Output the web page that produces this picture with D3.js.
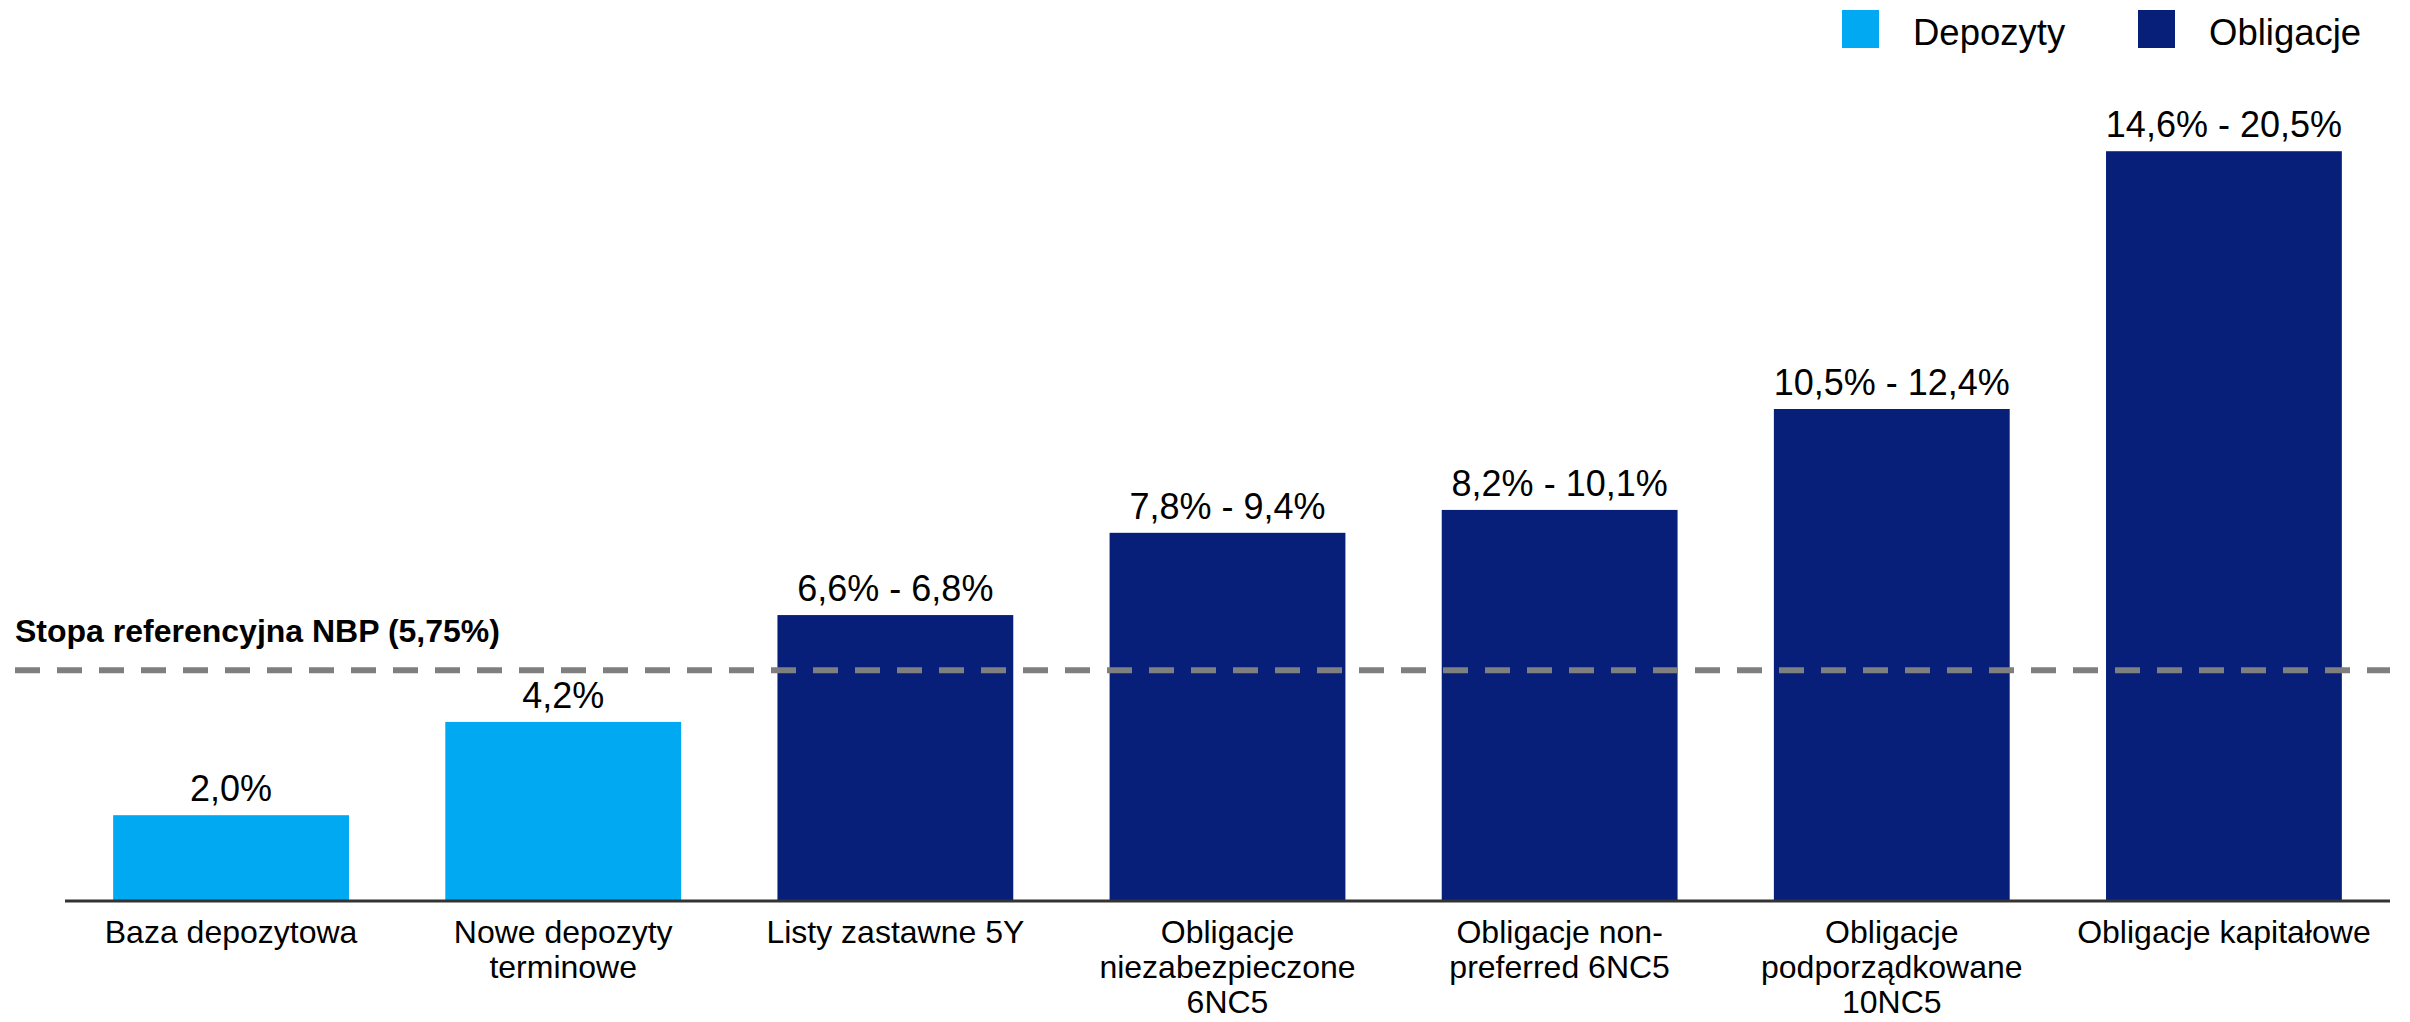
<!DOCTYPE html>
<meta charset="utf-8">
<script src="https://d3js.org/d3.v7.min.js"></script>
<style>
  body { margin: 0; background: #fff; }
  text { font-family: "Liberation Sans", Arial, sans-serif; fill: #000; }
</style>
<div id="chart"></div>
<script>

var width = 2410, height = 1022;

// dados
var categories = ["Baza depozytowa", "Nowe depozyty terminowe", "Listy zastawne 5Y",
  "Obligacje niezabezpieczone 6NC5", "Obligacje non-preferred 6NC5",
  "Obligacje podporządkowane 10NC5", "Obligacje kapitałowe"];
var catLines = [
  ["Baza depozytowa"],
  ["Nowe depozyty", "terminowe"],
  ["Listy zastawne 5Y"],
  ["Obligacje", "niezabezpieczone", "6NC5"],
  ["Obligacje non-", "preferred 6NC5"],
  ["Obligacje", "podporządkowane", "10NC5"],
  ["Obligacje kapitałowe"]
];
var barValues = [2.0, 4.2, 6.72, 8.66, 9.2, 11.58, 17.66];
var valueLabels = ["2,0%", "4,2%", "6,6% - 6,8%", "7,8% - 9,4%", "8,2% - 10,1%", "10,5% - 12,4%", "14,6% - 20,5%"];
var groups = ["Depozyty", "Depozyty", "Obligacje", "Obligacje", "Obligacje", "Obligacje", "Obligacje"];
var seriesNames = ["Depozyty", "Obligacje"];
var refLevel = 5.42;
var refLabel = "Stopa referencyjna NBP (5,75%)";

var kolor = d3.scaleOrdinal().domain(seriesNames).range(["#00a9f1", "#071f79"]);

var svg = d3.select("#chart")
  .append("svg")
  .attr("width", width)
  .attr("height", height);

var x = d3.scaleBand()
  .domain(categories)
  .range([65, 2390])
  .paddingInner(0.29)
  .paddingOuter(0.145);

var y = d3.scaleLinear()
  .domain([0, 20])
  .range([900, 900 - 20 * 42.4]);

var data = categories.map(function(c, i) {
  return {cat: c, v: barValues[i], lab: valueLabels[i], g: groups[i], lines: catLines[i]};
});

// słupki
svg.selectAll("rect.bar")
  .data(data)
  .join("rect")
  .attr("class", "bar")
  .attr("x", function(d) { return x(d.cat); })
  .attr("width", x.bandwidth())
  .attr("y", function(d) { return y(d.v); })
  .attr("height", function(d) { return y(0) - y(d.v); })
  .attr("fill", function(d) { return kolor(d.g); });

// etykiety wartości
svg.selectAll("text.val")
  .data(data)
  .join("text")
  .attr("class", "val")
  .attr("x", function(d) { return x(d.cat) + x.bandwidth() / 2; })
  .attr("y", function(d) { return y(d.v) - 14; })
  .attr("text-anchor", "middle")
  .style("font-size", "36px")
  .text(function(d) { return d.lab; });

// linia stopy referencyjnej
svg.append("line")
  .attr("x1", 15)
  .attr("x2", 2390)
  .attr("y1", y(refLevel))
  .attr("y2", y(refLevel))
  .attr("stroke", "#7f7f7f")
  .attr("stroke-width", 6)
  .attr("stroke-dasharray", "25,17");

svg.append("text")
  .attr("x", 15)
  .attr("y", 642)
  .style("font-size", "32px")
  .style("font-weight", "bold")
  .text(refLabel);

// oś X
svg.append("line")
  .attr("x1", 65)
  .attr("x2", 2390)
  .attr("y1", y(0) + 1)
  .attr("y2", y(0) + 1)
  .attr("stroke", "#333")
  .attr("stroke-width", 3);

var catText = svg.selectAll("text.cat")
  .data(data)
  .join("text")
  .attr("class", "cat")
  .attr("text-anchor", "middle")
  .style("font-size", "32px");

catText.selectAll("tspan")
  .data(function(d) { return d.lines.map(function(l) { return {l: l, cx: x(d.cat) + x.bandwidth() / 2}; }); })
  .join("tspan")
  .attr("x", function(d) { return d.cx; })
  .attr("y", function(d, i) { return 943 + i * 35; })
  .text(function(d) { return d.l; });

// legenda
var legX = [1842, 2138];
var leg = svg.selectAll("g.leg")
  .data(seriesNames)
  .join("g")
  .attr("class", "leg")
  .attr("transform", function(d, i) { return "translate(" + legX[i] + ",0)"; });

leg.append("rect")
  .attr("x", 0)
  .attr("y", 10)
  .attr("width", 37)
  .attr("height", 38)
  .attr("fill", function(d) { return kolor(d); });

leg.append("text")
  .attr("x", 71)
  .attr("y", 45)
  .style("font-size", "36.5px")
  .text(function(d) { return d; });

</script>
